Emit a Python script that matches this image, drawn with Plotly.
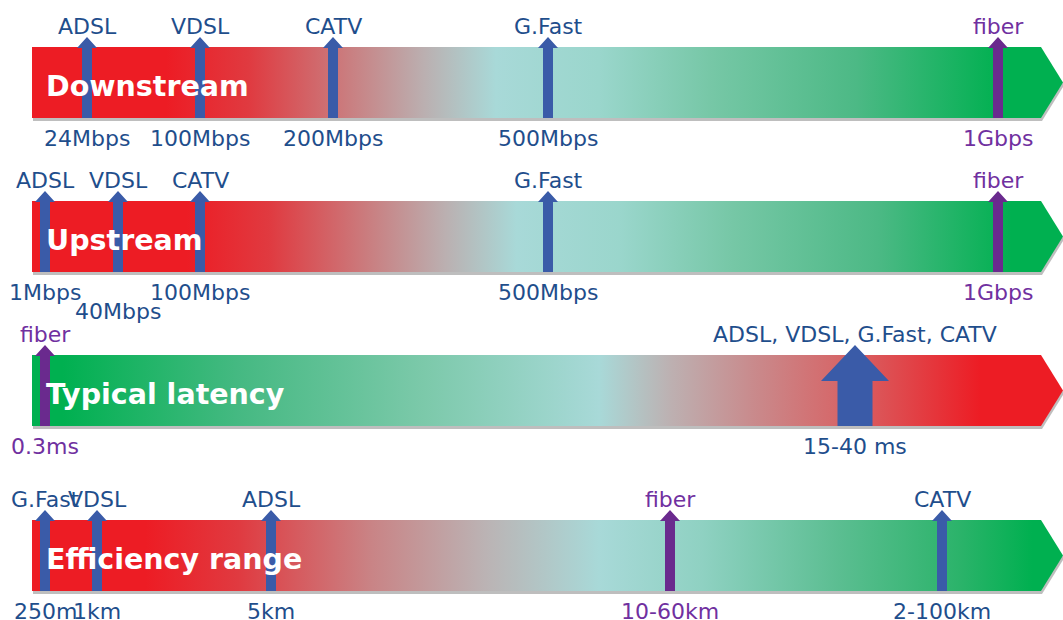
import plotly.graph_objects as go

# ---------------- data ----------------
band_names = ["Downstream", "Upstream", "Typical latency", "Efficiency range"]

down_tech = ["ADSL", "VDSL", "CATV", "G.Fast", "fiber"]
down_pos = [87, 200, 333, 548, 998]
down_vals = ["24Mbps", "100Mbps", "200Mbps", "500Mbps", "1Gbps"]

up_tech = ["ADSL", "VDSL", "CATV", "G.Fast", "fiber"]
up_pos = [45, 118, 200, 548, 998]
up_vals = ["1Mbps", "40Mbps", "100Mbps", "500Mbps", "1Gbps"]

lat_tech = ["fiber", "ADSL, VDSL, G.Fast, CATV"]
lat_pos = [45, 855]
lat_vals = ["0.3ms", "15-40 ms"]

eff_tech = ["G.Fast", "VDSL", "ADSL", "fiber", "CATV"]
eff_pos = [45, 97, 271, 670, 942]
eff_vals = ["250m", "1km", "5km", "10-60km", "2-100km"]

bands_data = [
    (down_tech, down_pos, down_vals),
    (up_tech, up_pos, up_vals),
    (lat_tech, lat_pos, lat_vals),
    (eff_tech, eff_pos, eff_vals),
]

# ---------------- styles ----------------
W, H = 1063, 620
BAND_TOPS = [47, 201, 355, 520]
BAND_H = 71
X_LEFT, X_BODY, X_TIP = 32, 1041, 1063

RED = "#ED1C24"
GREEN = "#00B050"
LBLUE = "#A8D9D8"
BLUE_TXT = "#1F4E8C"
BLUE_ARR = "#3A5BA8"
PURPLE_TXT = "#7030A0"
PURPLE_ARR = "#6A2A8E"

scale_fwd = [[0.0, RED], [0.13, RED], [0.21, "#E03A40"], [0.31, "#C98082"],
             [0.38, "#BBAFB0"], [0.45, LBLUE], [0.55, "#9AD6CC"],
             [0.66, "#76C7A6"], [0.8, "#4CB985"], [0.94, GREEN], [1.0, GREEN]]
scale_up = [[0.0, RED], [0.15, RED], [0.23, "#E03A40"], [0.33, "#C98082"],
            [0.40, "#BBAFB0"], [0.47, LBLUE], [0.57, "#9AD6CC"],
            [0.68, "#76C7A6"], [0.82, "#4CB985"], [0.95, GREEN], [1.0, GREEN]]
scale_lat = [[0.0, GREEN], [0.03, GREEN], [0.2, "#45B982"], [0.38, "#7CC9AA"],
             [0.55, LBLUE], [0.62, "#BDB0B1"], [0.7, "#C98A8C"],
             [0.8, "#D86062"], [0.92, RED], [1.0, RED]]
scale_eff = [[0.0, RED], [0.11, RED], [0.2, "#E03A40"], [0.33, "#C98486"],
             [0.44, "#BBB3B4"], [0.55, LBLUE], [0.65, "#8FD1C2"],
             [0.78, "#5CBE92"], [0.9, "#2BB36A"], [0.97, GREEN], [1.0, GREEN]]
band_scales = [scale_fwd, scale_up, scale_lat, scale_eff]

# labels that need a second (lower) row
value_row = {(1, 1): 1}
big_arrow = {(2, 1)}

FONT = "DejaVu Sans"
LABEL_SIZE = 22

fig = go.Figure()
annotations = []

for bi, (name, (tech, pos, vals)) in enumerate(zip(band_names, bands_data)):
    top = BAND_TOPS[bi]
    bot = top + BAND_H
    mid = (top + bot) / 2
    # shadow
    fig.add_trace(go.Scatter(
        x=[X_LEFT + 1, X_BODY + 1, X_TIP + 1, X_BODY + 1, X_LEFT + 1, X_LEFT + 1],
        y=[top + 3, top + 3, mid + 3, bot + 3, bot + 3, top + 3],
        mode="lines", fill="toself", fillcolor="rgba(110,110,110,0.45)",
        line=dict(width=0), hoverinfo="skip", showlegend=False))
    # band
    fig.add_trace(go.Scatter(
        x=[X_LEFT, X_BODY, X_TIP, X_BODY, X_LEFT, X_LEFT],
        y=[top, top, mid, bot, bot, top],
        mode="lines", fill="toself",
        fillgradient=dict(type="horizontal", colorscale=band_scales[bi],
                          start=X_LEFT, stop=X_TIP),
        line=dict(width=0), hoverinfo="skip", showlegend=False))
    # band label
    annotations.append(dict(x=X_LEFT + 12, y=mid + 4, text="<b>%s</b>" % name,
                            xanchor="left", yanchor="middle", showarrow=False,
                            font=dict(family=FONT, size=28.5, color="white")))
    # arrows
    for ti, (t, p, v) in enumerate(zip(tech, pos, vals)):
        is_fiber = t == "fiber"
        acol = PURPLE_ARR if is_fiber else BLUE_ARR
        tcol = PURPLE_TXT if is_fiber else BLUE_TXT
        if (bi, ti) in big_arrow:
            w, hw, yt, yb = 17.5, 34, top - 10, top + 26
        else:
            w, hw, yt, yb = 5, 10, top - 10, top + 1
        xs = [p - w, p - w, p - hw, p, p + hw, p + w, p + w, p - w]
        ys = [bot, yb, yb, yt, yb, yb, bot, bot]
        fig.add_trace(go.Scatter(x=xs, y=ys, mode="lines", fill="toself",
                                 fillcolor=acol, line=dict(width=0),
                                 hoverinfo="skip", showlegend=False))
        annotations.append(dict(x=p, y=top - 21, text=t, showarrow=False,
                                xanchor="center", yanchor="middle",
                                font=dict(family=FONT, size=LABEL_SIZE, color=tcol)))
        row = value_row.get((bi, ti), 0)
        annotations.append(dict(x=p, y=bot + 20 + 19 * row, text=v, showarrow=False,
                                xanchor="center", yanchor="middle",
                                font=dict(family=FONT, size=LABEL_SIZE, color=tcol)))

fig.update_layout(
    width=W, height=H,
    margin=dict(l=0, r=0, t=0, b=0),
    paper_bgcolor="white", plot_bgcolor="white",
    xaxis=dict(range=[0, W], visible=False, fixedrange=True),
    yaxis=dict(range=[H, 0], visible=False, fixedrange=True),
    annotations=annotations,
    showlegend=False,
)

fig.write_html(
    "out.html",
    config={"displayModeBar": False, "staticPlot": True},
    post_script="document.body.style.margin='0';document.body.style.overflow='hidden';",
)
